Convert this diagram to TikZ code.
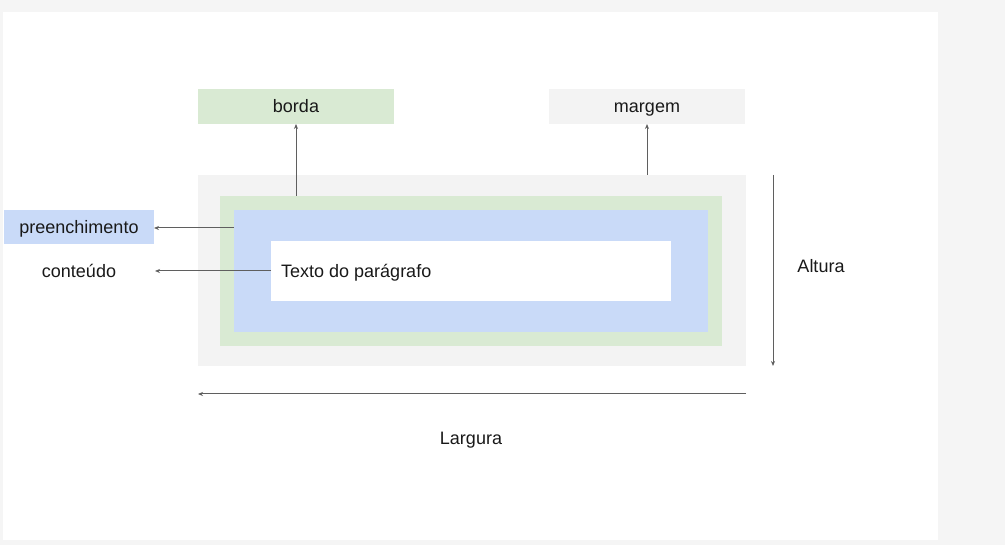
\documentclass[tikz,border=0pt]{standalone}
\usepackage{fontspec}
\setmainfont{Liberation Sans}
\usetikzlibrary{arrows.meta}
\definecolor{marg}{HTML}{F3F3F3}
\definecolor{bord}{HTML}{D9EAD3}
\definecolor{padd}{HTML}{C9DAF8}
\definecolor{arrc}{HTML}{5F5F5F}
\definecolor{frame}{HTML}{F5F5F5}
\tikzset{
  box/.style={inner sep=0pt, outer sep=0pt, draw=none},
  lbl/.style={font=\fontsize{18}{22}\selectfont, text=black!90, inner sep=0pt,
              text height=13pt, text depth=0pt},
  arr/.style={draw=arrc, line width=1pt, -{Stealth[length=5pt,width=4pt]}}
}
\begin{document}
\begin{tikzpicture}[x=1pt,y=-1pt]
\useasboundingbox (0,0) rectangle (1005,545);
\fill[frame] (0,0) rectangle (1005,545);
\fill[white] (3,12) rectangle (938,540);
% nested boxes
\node[box, fill=marg, minimum width=548pt, minimum height=191pt] (margin) at (472,270.5) {};
\node[box, fill=bord, minimum width=502pt, minimum height=150pt] (border) at (471,271) {};
\node[box, fill=padd, minimum width=474pt, minimum height=122pt] (padding) at (471,271) {};
\node[box, fill=white, minimum width=400pt, minimum height=60pt] (content) at (471,271) {};
\node[lbl, anchor=west] (texto) at (281,271) {Texto do parágrafo};
% labels
\node[box, fill=bord, minimum width=196pt, minimum height=35pt, lbl] (borda) at (296,106.5) {borda};
\node[box, fill=marg, minimum width=196pt, minimum height=35pt, lbl] (margem) at (647,106.5) {margem};
\node[box, fill=padd, minimum width=150pt, minimum height=34pt, lbl] (pre) at (79,227) {preenchimento};
\node[box, minimum width=152pt, minimum height=34pt, lbl] (conteudo) at (79,271) {conteúdo};
\node[lbl] (altura) at (821,266) {Altura};
\node[lbl] (largura) at (471,438) {Largura};
% dimension coordinates
\coordinate (h1) at (773,175);
\coordinate (h2) at (773,366);
\coordinate (w1) at (746,394);
\coordinate (w2) at (198,394);
% connectors
\draw[arr] (border.north -| borda.south) -- (borda.south);
\draw[arr] (margin.north -| margem.south) -- (margem.south);
\draw[arr] (padding.west |- 0,228) -- (pre.east |- 0,228);
\draw[arr] (content.west) -- (conteudo.east);
\draw[arr] (h1) -- (h2);
\draw[arr] (w1) -- (w2);
\end{tikzpicture}
\end{document}
